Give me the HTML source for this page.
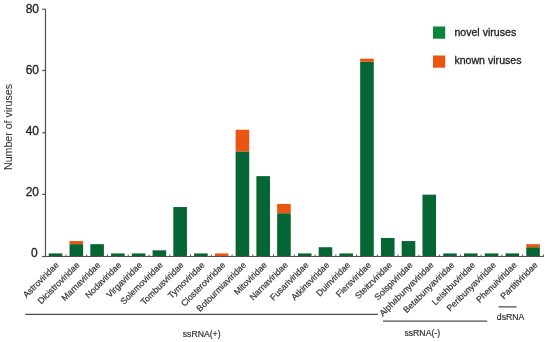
<!DOCTYPE html>
<html><head><meta charset="utf-8"><style>
html,body{margin:0;padding:0;background:#fff;width:550px;height:342px;overflow:hidden}
svg{display:block}
.xl{fill:#333;stroke:#333;stroke-width:0.2px}
text{font-family:"Liberation Sans",Arial,sans-serif;fill:#222;stroke:#222;stroke-width:0.3px}
</style></head><body>
<svg width="550" height="342" viewBox="0 0 550 342">
<rect x="48.78" y="253.41" width="13.6" height="3.09" fill="#056533"/>
<rect x="69.54" y="244.14" width="13.6" height="12.36" fill="#056533"/>
<rect x="69.54" y="241.04" width="13.6" height="3.09" fill="#EB5512"/>
<rect x="90.30" y="244.14" width="13.6" height="12.36" fill="#056533"/>
<rect x="111.06" y="253.41" width="13.6" height="3.09" fill="#056533"/>
<rect x="131.82" y="253.41" width="13.6" height="3.09" fill="#056533"/>
<rect x="152.58" y="250.32" width="13.6" height="6.18" fill="#056533"/>
<rect x="173.34" y="207.04" width="13.6" height="49.46" fill="#056533"/>
<rect x="194.10" y="253.41" width="13.6" height="3.09" fill="#056533"/>
<rect x="214.86" y="253.41" width="13.6" height="3.09" fill="#EB5512"/>
<rect x="235.62" y="151.41" width="13.6" height="105.09" fill="#056533"/>
<rect x="235.62" y="129.77" width="13.6" height="21.64" fill="#EB5512"/>
<rect x="256.38" y="176.13" width="13.6" height="80.37" fill="#056533"/>
<rect x="277.14" y="213.23" width="13.6" height="43.27" fill="#056533"/>
<rect x="277.14" y="203.95" width="13.6" height="9.27" fill="#EB5512"/>
<rect x="297.90" y="253.41" width="13.6" height="3.09" fill="#056533"/>
<rect x="318.66" y="247.23" width="13.6" height="9.27" fill="#056533"/>
<rect x="339.42" y="253.41" width="13.6" height="3.09" fill="#056533"/>
<rect x="360.18" y="61.77" width="13.6" height="194.73" fill="#056533"/>
<rect x="360.18" y="58.68" width="13.6" height="3.09" fill="#EB5512"/>
<rect x="380.94" y="237.95" width="13.6" height="18.55" fill="#056533"/>
<rect x="401.70" y="241.04" width="13.6" height="15.46" fill="#056533"/>
<rect x="422.46" y="194.68" width="13.6" height="61.82" fill="#056533"/>
<rect x="443.22" y="253.41" width="13.6" height="3.09" fill="#056533"/>
<rect x="463.98" y="253.41" width="13.6" height="3.09" fill="#056533"/>
<rect x="484.74" y="253.41" width="13.6" height="3.09" fill="#056533"/>
<rect x="505.50" y="253.41" width="13.6" height="3.09" fill="#056533"/>
<rect x="526.26" y="247.23" width="13.6" height="9.27" fill="#056533"/>
<rect x="526.26" y="244.14" width="13.6" height="3.09" fill="#EB5512"/>
<path d="M45.5 9.2 V256.5 M42 256.5 H543.6" stroke="#4f4f4f" stroke-width="1.2" fill="none"/>
<path d="M42.2 9.2 H45.5" stroke="#4f4f4f" stroke-width="1.2"/>
<path d="M42.2 70.5 H45.5" stroke="#4f4f4f" stroke-width="1.2"/>
<path d="M42.2 132.8 H45.5" stroke="#4f4f4f" stroke-width="1.2"/>
<path d="M42.2 194.3 H45.5" stroke="#4f4f4f" stroke-width="1.2"/>
<path d="M42.2 256.5 H45.5" stroke="#4f4f4f" stroke-width="1.2"/>
<text x="39" y="12.8" text-anchor="end" font-size="12">80</text>
<text x="39" y="73.8" text-anchor="end" font-size="12">60</text>
<text x="39" y="134.8" text-anchor="end" font-size="12">40</text>
<text x="39" y="195.8" text-anchor="end" font-size="12">20</text>
<text x="37.6" y="256.5" text-anchor="end" font-size="12">0</text>
<path d="M65.96 256.5 V254.5" stroke="#4f4f4f" stroke-width="1"/>
<path d="M86.72 256.5 V254.5" stroke="#4f4f4f" stroke-width="1"/>
<path d="M107.48 256.5 V254.5" stroke="#4f4f4f" stroke-width="1"/>
<path d="M128.24 256.5 V254.5" stroke="#4f4f4f" stroke-width="1"/>
<path d="M149.00 256.5 V254.5" stroke="#4f4f4f" stroke-width="1"/>
<path d="M169.76 256.5 V254.5" stroke="#4f4f4f" stroke-width="1"/>
<path d="M190.52 256.5 V254.5" stroke="#4f4f4f" stroke-width="1"/>
<path d="M211.28 256.5 V254.5" stroke="#4f4f4f" stroke-width="1"/>
<path d="M232.04 256.5 V254.5" stroke="#4f4f4f" stroke-width="1"/>
<path d="M252.80 256.5 V254.5" stroke="#4f4f4f" stroke-width="1"/>
<path d="M273.56 256.5 V254.5" stroke="#4f4f4f" stroke-width="1"/>
<path d="M294.32 256.5 V254.5" stroke="#4f4f4f" stroke-width="1"/>
<path d="M315.08 256.5 V254.5" stroke="#4f4f4f" stroke-width="1"/>
<path d="M335.84 256.5 V254.5" stroke="#4f4f4f" stroke-width="1"/>
<path d="M356.60 256.5 V254.5" stroke="#4f4f4f" stroke-width="1"/>
<path d="M377.36 256.5 V254.5" stroke="#4f4f4f" stroke-width="1"/>
<path d="M398.12 256.5 V254.5" stroke="#4f4f4f" stroke-width="1"/>
<path d="M418.88 256.5 V254.5" stroke="#4f4f4f" stroke-width="1"/>
<path d="M439.64 256.5 V254.5" stroke="#4f4f4f" stroke-width="1"/>
<path d="M460.40 256.5 V254.5" stroke="#4f4f4f" stroke-width="1"/>
<path d="M481.16 256.5 V254.5" stroke="#4f4f4f" stroke-width="1"/>
<path d="M501.92 256.5 V254.5" stroke="#4f4f4f" stroke-width="1"/>
<path d="M522.68 256.5 V254.5" stroke="#4f4f4f" stroke-width="1"/>
<path d="M543.44 256.5 V254.5" stroke="#4f4f4f" stroke-width="1"/>
<text x="59.43" y="265.50" text-anchor="end" font-size="8.8" class="xl" transform="rotate(-45 59.43 265.50)">Astroviridae</text>
<text x="80.25" y="265.50" text-anchor="end" font-size="8.8" class="xl" transform="rotate(-45 80.25 265.50)">Dicistroviridae</text>
<text x="101.06" y="265.50" text-anchor="end" font-size="8.8" class="xl" transform="rotate(-45 101.06 265.50)">Marnaviridae</text>
<text x="121.88" y="265.50" text-anchor="end" font-size="8.8" class="xl" transform="rotate(-45 121.88 265.50)">Nodaviridae</text>
<text x="142.69" y="265.50" text-anchor="end" font-size="8.8" class="xl" transform="rotate(-45 142.69 265.50)">Virgaviridae</text>
<text x="163.50" y="265.50" text-anchor="end" font-size="8.8" class="xl" transform="rotate(-45 163.50 265.50)">Solemoviridae</text>
<text x="184.32" y="265.50" text-anchor="end" font-size="8.8" class="xl" transform="rotate(-45 184.32 265.50)">Tombusviridae</text>
<text x="205.14" y="265.50" text-anchor="end" font-size="8.8" class="xl" transform="rotate(-45 205.14 265.50)">Tymoviridae</text>
<text x="225.95" y="265.50" text-anchor="end" font-size="8.8" class="xl" transform="rotate(-45 225.95 265.50)">Closteroviridae</text>
<text x="246.77" y="265.50" text-anchor="end" font-size="8.8" class="xl" transform="rotate(-45 246.77 265.50)">Botourmiaviridae</text>
<text x="267.58" y="265.50" text-anchor="end" font-size="8.8" class="xl" transform="rotate(-45 267.58 265.50)">Mitoviridae</text>
<text x="288.40" y="265.50" text-anchor="end" font-size="8.8" class="xl" transform="rotate(-45 288.40 265.50)">Narnaviridae</text>
<text x="309.21" y="265.50" text-anchor="end" font-size="8.8" class="xl" transform="rotate(-45 309.21 265.50)">Fusariviridae</text>
<text x="330.03" y="265.50" text-anchor="end" font-size="8.8" class="xl" transform="rotate(-45 330.03 265.50)">Atkinsviridae</text>
<text x="350.84" y="265.50" text-anchor="end" font-size="8.8" class="xl" transform="rotate(-45 350.84 265.50)">Duinviridae</text>
<text x="371.66" y="265.50" text-anchor="end" font-size="8.8" class="xl" transform="rotate(-45 371.66 265.50)">Fiersviridae</text>
<text x="392.47" y="265.50" text-anchor="end" font-size="8.8" class="xl" transform="rotate(-45 392.47 265.50)">Steitzviridae</text>
<text x="413.29" y="265.50" text-anchor="end" font-size="8.8" class="xl" transform="rotate(-45 413.29 265.50)">Solspiviridae</text>
<text x="434.10" y="265.50" text-anchor="end" font-size="8.8" class="xl" transform="rotate(-45 434.10 265.50)">Alphabunyaviridae</text>
<text x="454.92" y="265.50" text-anchor="end" font-size="8.8" class="xl" transform="rotate(-45 454.92 265.50)">Betabunyaviridae</text>
<text x="475.73" y="265.50" text-anchor="end" font-size="8.8" class="xl" transform="rotate(-45 475.73 265.50)">Leishbuviridae</text>
<text x="496.55" y="265.50" text-anchor="end" font-size="8.8" class="xl" transform="rotate(-45 496.55 265.50)">Peribunyaviridae</text>
<text x="517.36" y="265.50" text-anchor="end" font-size="8.8" class="xl" transform="rotate(-45 517.36 265.50)">Phenuiviridae</text>
<text x="538.18" y="265.50" text-anchor="end" font-size="8.8" class="xl" transform="rotate(-45 538.18 265.50)">Partitiviridae</text>
<text x="0" y="0" text-anchor="middle" font-size="10.6" style="stroke-width:0;fill:#2a2a2a" transform="translate(12.2 127) rotate(-90)">Number of viruses</text>
<rect x="433" y="26.5" width="12.2" height="12.2" fill="#0A843C"/>
<rect x="433" y="55.5" width="12.2" height="12.2" fill="#EB5512"/>
<text x="454.4" y="35.6" font-size="10.6">novel viruses</text>
<text x="454.4" y="63.6" font-size="10.6">known viruses</text>
<path d="M25.2 314.3 H378 M383 321.2 H487.2 M498.5 306.8 H516.5" stroke="#4f4f4f" stroke-width="1.2"/>
<text x="182.7" y="336.9" font-size="8.7" class="xl">ssRNA(+)</text>
<text x="404.4" y="335.6" font-size="8.7" class="xl">ssRNA(-)</text>
<text x="496.8" y="319.9" font-size="8.7" class="xl">dsRNA</text>
</svg>
</body></html>
